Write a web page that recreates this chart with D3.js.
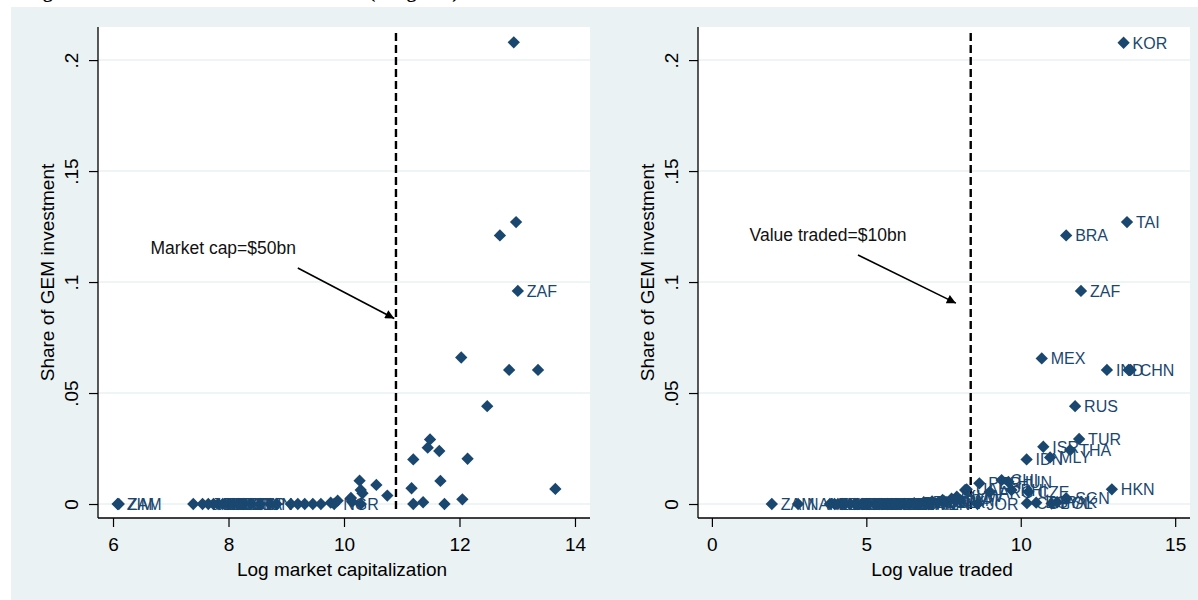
<!DOCTYPE html>
<html>
<head>
<meta charset="utf-8">
<script src="https://cdn.jsdelivr.net/npm/d3@7"></script>
<style>
  body { margin: 0; background: #fff; }
  text { font-family: "Liberation Sans", Arial, sans-serif; }
</style>
</head>
<body>
<div id="chart"></div>
<script>
const width = 1198;
const height = 600;

// Left panel: log market capitalization vs share of GEM investment
const capX = [12.94, 12.70, 12.98, 13.01, 12.03, 12.86, 13.36, 12.48, 11.49, 11.45, 11.65, 11.20, 12.14,
  10.27, 10.56, 11.67, 10.29, 10.32, 10.75, 11.17, 13.66, 11.20, 11.37, 11.74, 12.05, 10.12, 10.14, 9.89, 9.77, 10.29,
  6.08, 6.10, 7.39, 7.55, 7.65, 7.74, 7.82, 7.90, 7.99, 8.08, 8.17, 8.26, 8.39, 8.55, 8.72, 8.83,
  9.08, 9.20, 9.32, 9.46, 9.60, 9.83];
const capShare = [0.208, 0.121, 0.127, 0.096, 0.066, 0.0604, 0.0604, 0.0441, 0.0291, 0.0254, 0.0239, 0.0201, 0.0204,
  0.0105, 0.0086, 0.0104, 0.0063, 0.0048, 0.0038, 0.0071, 0.0068, 0.0, 0.0008, 0.0, 0.0021, 0.0027, 0.001, 0.0015, 0.0006, 0.0,
  0, 0, 0, 0, 0, 0, 0, 0, 0, 0, 0, 0, 0, 0, 0, 0,
  0, 0, 0, 0, 0, 0];
const capLabel = ["", "", "", "ZAF", "", "", "", "", "", "", "", "", "",
  "", "", "", "", "", "", "", "", "", "", "", "", "", "", "", "", "",
  "ZIM", "ZAM", "", "JAM", "KEN", "BOT", "MAU", "SLK", "CRO", "BGD", "GHA", "CYP", "TUN", "", "", "",
  "", "", "", "", "", "NGR"];

// Right panel: log value traded vs share of GEM investment
const valX = [13.33, 11.47, 13.44, 11.95, 10.68, 12.79, 13.49, 13.56, 11.76, 11.89, 10.73, 11.60, 10.19, 10.95, 12.95,
  9.38, 9.60, 9.00, 9.70, 10.25, 8.66, 8.20, 8.60, 10.20, 10.50, 11.00, 11.18, 11.47,
  1.94, 2.79, 3.82, 3.97, 4.08, 4.22, 4.31, 4.47, 4.63, 4.71, 4.88, 5.02, 5.09, 5.27, 5.41, 5.50,
  5.68, 5.83, 5.96, 6.12, 6.24, 6.41, 6.55, 6.68, 6.86, 7.01, 7.13, 7.32, 7.47, 7.58, 7.76, 7.93, 8.05, 8.25];
const valShare = [0.2078, 0.121, 0.127, 0.096, 0.0656, 0.0604, 0.0604, 0.0604, 0.0441, 0.0293, 0.0258, 0.0243, 0.0201, 0.021, 0.0066,
  0.0108, 0.0100, 0.0055, 0.0063, 0.0055, 0.0093, 0.0063, 0.0, 0.0004, 0.0006, 0.0002, 0.0008, 0.0026,
  0, 0, 0, 0, 0, 0, 0, 0, 0, 0, 0, 0, 0, 0, 0, 0,
  0, 0, 0, 0, 0, 0, 0.0004, 0, 0.0008, 0, 0.0012, 0.0006, 0.0018, 0.0010, 0.0024, 0.0033, 0.0015, 0.0066];
const valLabel = ["KOR", "BRA", "TAI", "ZAF", "MEX", "IND", "", "CHN", "RUS", "TUR", "ISR", "THA", "IDN", "MLY", "HKN",
  "CHI", "HUN", "ARG", "PHI", "CZE", "PER", "", "JOR", "COL", "EGY", "POL", "PAK", "SGN",
  "ZAM", "NAM", "ZIM", "MAU", "BOT", "GHA", "KEN", "JAM", "TRI", "BGD", "SLK", "CRO", "TUN", "CYP", "MOR", "SLO",
  "KAZ", "UKR", "EST", "LAT", "LIT", "OMN", "BAH", "JAM", "ECU", "VEN", "NGR", "BUL", "ROM", "SLK", "SLO", "KUW", "QAT", "UAE"];

const yTicks = [0, 0.05, 0.1, 0.15, 0.2];
const yTickLabels = ["0", ".05", ".1", ".15", ".2"];
const capTicks = [6, 8, 10, 12, 14];
const valTicks = [0, 5, 10, 15];

const navy = "#1a476f";
const grey = "#eaf2f3";

const svg = d3.select("#chart")
    .append("svg")
    .attr("width", width)
    .attr("height", height);

// Stata-style outer background
svg.append("rect")
    .attr("x", 11).attr("y", 7)
    .attr("width", width - 11).attr("height", height - 7)
    .attr("fill", grey);

// Title, mostly cut off at the top of the page
svg.append("text")
    .attr("x", 26).attr("y", -2)
    .style("font-family", "'Liberation Serif', 'Times New Roman', serif")
    .style("font-weight", "bold")
    .style("font-size", "19px")
    .text("Figure 4: Share of Total GEM Investment (Weighted)");

svg.append("defs").append("marker")
    .attr("id", "arrow")
    .attr("viewBox", "0 0 10 10")
    .attr("refX", 10).attr("refY", 5)
    .attr("markerWidth", 10).attr("markerHeight", 9)
    .attr("markerUnits", "userSpaceOnUse")
    .attr("orient", "auto")
    .append("path")
    .attr("d", "M0,0 L10,5 L0,10 Z")
    .attr("fill", "#000");

function drawPanel(cfg) {
    const xScale = d3.scaleLinear().domain(cfg.xDomain).range([cfg.left, cfg.right]);
    const yScale = d3.scaleLinear().domain([-0.0063, 0.2149]).range([518, 27]);

    const g = svg.append("g");

    // plot region
    g.append("rect")
        .attr("x", cfg.left).attr("y", 27)
        .attr("width", cfg.right - cfg.left).attr("height", 518 - 27)
        .attr("fill", "#fff");

    // horizontal grid lines
    g.selectAll(".grid")
        .data(yTicks)
        .enter()
        .append("line")
        .attr("x1", cfg.left).attr("x2", cfg.right)
        .attr("y1", d => yScale(d)).attr("y2", d => yScale(d))
        .attr("stroke", grey)
        .attr("stroke-width", 1.5);

    // y axis
    const yAxis = g.append("g")
        .attr("transform", `translate(${cfg.left},0)`)
        .call(d3.axisLeft(yScale).tickValues(yTicks).tickSize(9).tickPadding(0)
            .tickFormat((d, i) => yTickLabels[i]));
    yAxis.select(".domain").attr("d", `M0,27V518`).attr("stroke-width", 1.3);
    yAxis.selectAll(".tick line").attr("stroke-width", 1.2);
    yAxis.selectAll("text")
        .attr("transform", "translate(-27,0) rotate(-90)")
        .attr("x", 0).attr("dy", "0.35em")
        .style("text-anchor", "middle")
        .style("font-size", "19px")
        .attr("fill", "#000");

    // x axis
    const xAxis = g.append("g")
        .attr("transform", "translate(0,518)")
        .call(d3.axisBottom(xScale).tickValues(cfg.ticks).tickSize(9).tickPadding(11));
    xAxis.select(".domain").attr("d", `M${cfg.left},0H${cfg.right}`).attr("stroke-width", 1.3);
    xAxis.selectAll(".tick line").attr("stroke-width", 1.2);
    xAxis.selectAll("text")
        .style("font-size", "19px")
        .attr("fill", "#000");

    // axis titles
    g.append("text")
        .attr("transform", `translate(${cfg.left - 51},${(27 + 518) / 2}) rotate(-90)`)
        .attr("text-anchor", "middle")
        .attr("dy", "0.35em")
        .style("font-size", "19px")
        .text("Share of GEM investment");

    g.append("text")
        .attr("x", (cfg.left + cfg.right) / 2 - 2)
        .attr("y", 576)
        .attr("text-anchor", "middle")
        .style("font-size", "19px")
        .text(cfg.xTitle);

    // threshold line
    g.append("line")
        .attr("x1", xScale(cfg.cutoff)).attr("x2", xScale(cfg.cutoff))
        .attr("y1", yScale(0.2122)).attr("y2", yScale(-0.0027))
        .attr("stroke", "#000")
        .attr("stroke-width", 2.4)
        .attr("stroke-dasharray", "8,4");

    // annotation
    g.append("text")
        .attr("x", xScale(cfg.noteAt[0]))
        .attr("y", yScale(cfg.noteAt[1]))
        .style("font-size", "17.5px")
        .attr("fill", "#111")
        .text(cfg.note);

    g.append("line")
        .attr("x1", xScale(cfg.arrowFrom[0])).attr("y1", yScale(cfg.arrowFrom[1]))
        .attr("x2", xScale(cfg.arrowTo[0])).attr("y2", yScale(cfg.arrowTo[1]))
        .attr("stroke", "#000")
        .attr("stroke-width", 1.6)
        .attr("marker-end", "url(#arrow)");

    const pts = cfg.xs.map((x, i) => ({ x: x, y: cfg.ys[i], label: cfg.labels[i] }));

    // markers
    g.selectAll(".pt")
        .data(pts)
        .enter()
        .append("path")
        .attr("d", d3.symbol(d3.symbolSquare, 76))
        .attr("transform", d => `translate(${xScale(d.x)},${yScale(d.y)}) rotate(45)`)
        .attr("fill", navy);

    // marker labels
    g.selectAll(".lbl")
        .data(pts.filter(d => d.label))
        .enter()
        .append("text")
        .attr("x", d => xScale(d.x) + 9)
        .attr("y", d => yScale(d.y))
        .attr("dy", "0.36em")
        .style("font-size", "16px")
        .attr("fill", navy)
        .text(d => d.label);
}

drawPanel({
    left: 98, right: 590, xDomain: [5.74, 14.26], ticks: capTicks,
    xs: capX, ys: capShare, labels: capLabel,
    xTitle: "Log market capitalization",
    cutoff: 10.9,
    note: "Market cap=$50bn", noteAt: [6.65, 0.1125],
    arrowFrom: [9.2, 0.1063], arrowTo: [10.87, 0.0836]
});

drawPanel({
    left: 698, right: 1190, xDomain: [-0.45, 15.48], ticks: valTicks,
    xs: valX, ys: valShare, labels: valLabel,
    xTitle: "Log value traded",
    cutoff: 8.38,
    note: "Value traded=$10bn", noteAt: [1.22, 0.1185],
    arrowFrom: [4.73, 0.1122], arrowTo: [7.9, 0.0905]
});
</script>
</body>
</html>
